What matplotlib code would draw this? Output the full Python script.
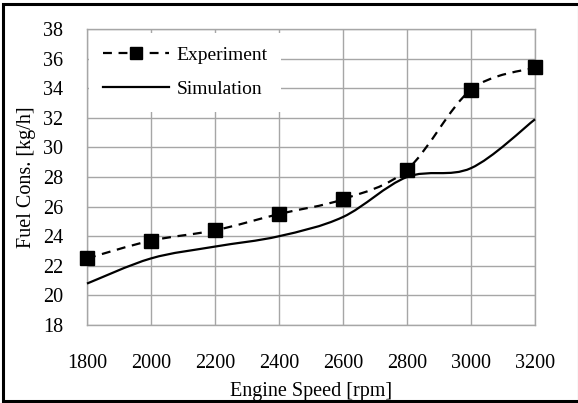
import numpy as np
import matplotlib.pyplot as plt
from matplotlib.path import Path
from matplotlib.patches import PathPatch, Rectangle
from matplotlib.lines import Line2D

plt.rcParams['font.family'] = ['Liberation Serif', 'DejaVu Serif']

speed = [1800, 2000, 2200, 2400, 2600, 2800, 3000, 3200]
experiment = [22.5, 23.7, 24.4, 25.5, 26.5, 28.5, 33.9, 35.4]
simulation = [20.8, 22.5, 23.3, 24.0, 25.3, 28.0, 28.6, 31.9]


def smooth_path(x, y):
    # excel-like smoothed line: cubic bezier through the points
    pts = np.column_stack([x, y]).astype(float)
    verts = [pts[0]]
    codes = [Path.MOVETO]
    n = len(pts)
    for i in range(n - 1):
        p0 = pts[i - 1] if i > 0 else pts[i]
        p1 = pts[i]
        p2 = pts[i + 1]
        p3 = pts[i + 2] if i + 2 < n else pts[i + 1]
        c1 = p1 + (p2 - p0) / 6.0
        c2 = p2 - (p3 - p1) / 6.0
        verts += [c1, c2, p2]
        codes += [Path.CURVE4] * 3
    return Path(verts, codes)


fig = plt.figure(figsize=(5.78, 4.03), dpi=100)
ax = fig.add_axes([0.1505, 0.1935, 0.7751, 0.7345])

grid_col = '#a6a6a6'
ax.set_xlim(1800, 3200)
ax.set_ylim(18, 38)
ax.set_xticks(range(1800, 3201, 200))
ax.set_yticks(range(18, 39, 2))
ax.grid(True, color=grid_col, linewidth=1.0)
ax.set_axisbelow(True)
for s in ax.spines.values():
    s.set_color(grid_col)
    s.set_linewidth(1.0)
ax.tick_params(length=0, labelsize=14.5)
ax.tick_params(axis='x', pad=21)
ax.tick_params(axis='y', pad=17)

ax.add_patch(PathPatch(smooth_path(speed, experiment), facecolor='none',
                       edgecolor='black', linewidth=1.6, linestyle=(0, (4, 3)),
                       zorder=3, clip_on=False))
ax.plot(speed, experiment, linestyle='none', marker='s', markersize=9.5,
        color='black', zorder=4, clip_on=False)
ax.add_patch(PathPatch(smooth_path(speed, simulation), facecolor='none',
                       edgecolor='black', linewidth=1.6, zorder=3, clip_on=False))

handles = [Line2D([], [], color='black', linewidth=1.6, linestyle=(0, (4, 3)),
                  marker='s', markersize=8),
           Line2D([], [], color='black', linewidth=1.6)]
leg = ax.legend(handles, ['Experiment', 'Simulation'], loc='upper left',
                bbox_to_anchor=(-0.004, 1.0), fontsize=14, handlelength=3.4,
                labelspacing=0.85, borderaxespad=0.2, borderpad=0.7,
                handletextpad=0.4, frameon=True, fancybox=False)
leg.get_frame().set_facecolor('white')
leg.get_frame().set_edgecolor('none')
leg.get_frame().set_alpha(1.0)

ax.set_xlabel('Engine Speed [rpm]', fontsize=14.5, labelpad=6)
ax.set_ylabel('Fuel Cons. [kg/h]', fontsize=14.5, labelpad=5)

fig.patches.append(Rectangle((0.006, 0.004), 0.995, 0.985, transform=fig.transFigure,
                             fill=False, edgecolor='black', linewidth=2.2))

fig.savefig('out.png', dpi=100)
